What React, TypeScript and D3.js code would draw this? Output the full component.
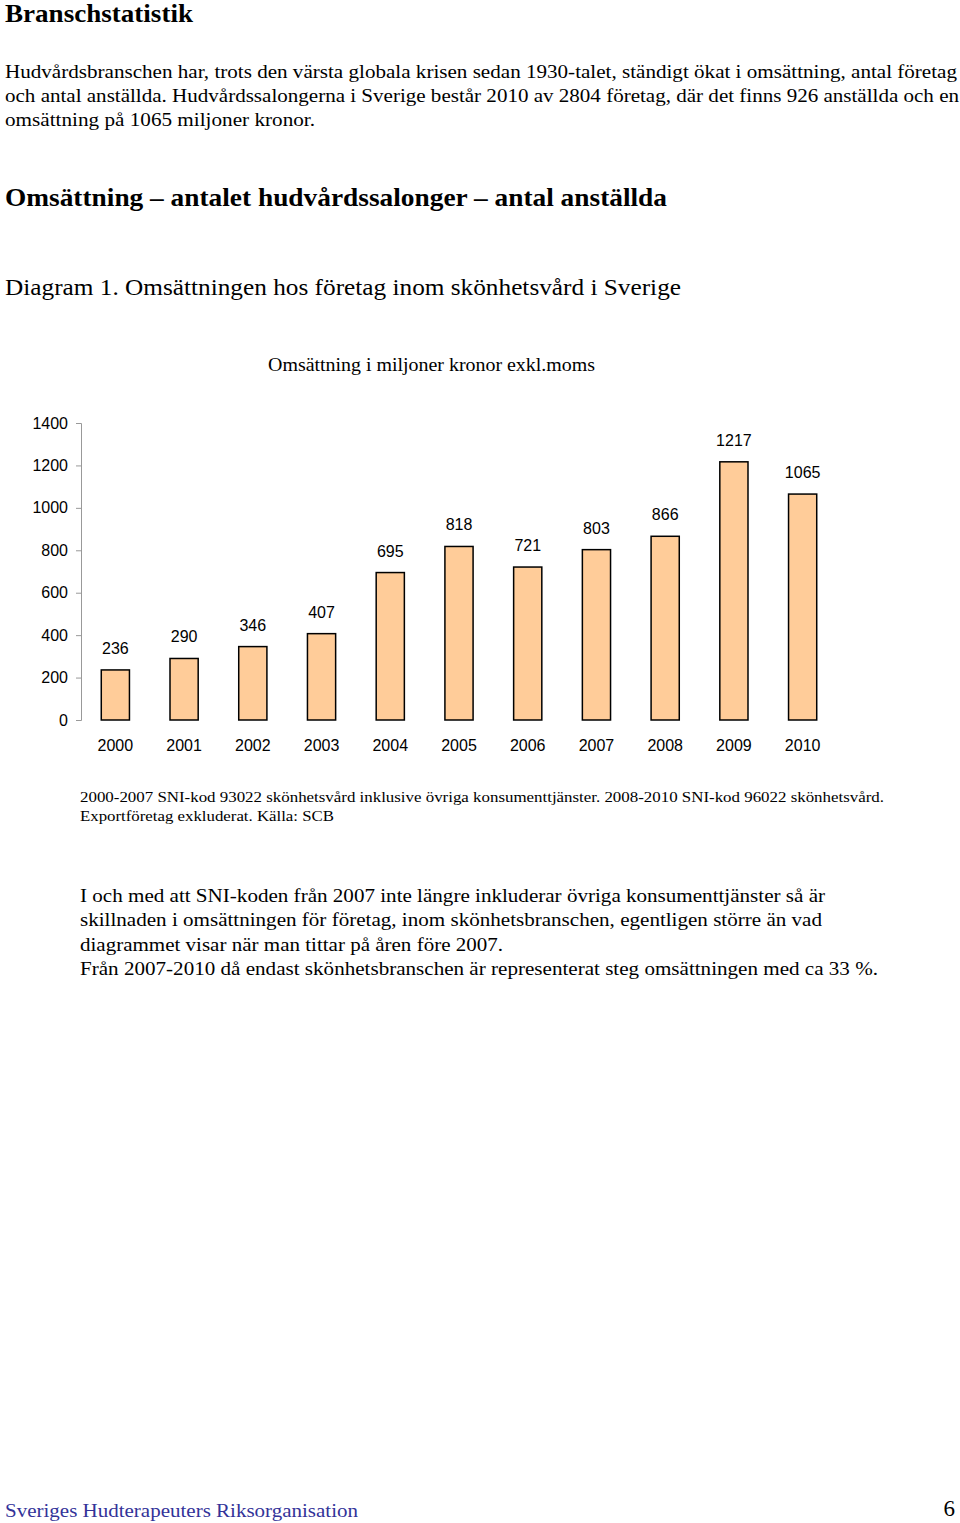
import * as React from 'react';
import { useEffect, useRef } from 'react';
import { select, scaleBand, scaleLinear, axisLeft } from 'd3';

const years = ['2000', '2001', '2002', '2003', '2004', '2005', '2006', '2007', '2008', '2009', '2010'];
const revenue = [236, 290, 346, 407, 695, 818, 721, 803, 866, 1217, 1065];
const yTicks = [0, 200, 400, 600, 800, 1000, 1200, 1400];

const introLines = [
    'Hudvårdsbranschen har, trots den värsta globala krisen sedan 1930-talet, ständigt ökat i omsättning, antal företag',
    'och antal anställda. Hudvårdssalongerna i Sverige består 2010 av 2804 företag, där det finns 926 anställda och en',
    'omsättning på 1065 miljoner kronor.',
];
const noteLines = [
    '2000-2007 SNI-kod 93022 skönhetsvård inklusive övriga konsumenttjänster. 2008-2010 SNI-kod 96022 skönhetsvård.',
    'Exportföretag exkluderat. Källa: SCB',
];
const bodyLines = [
    'I och med att SNI-koden från 2007 inte längre inkluderar övriga konsumenttjänster så är',
    'skillnaden i omsättningen för företag, inom skönhetsbranschen, egentligen större än vad',
    'diagrammet visar när man tittar på åren före 2007.',
    'Från 2007-2010 då endast skönhetsbranschen är representerat steg omsättningen med ca 33 %.',
];

const serif = "'Times New Roman', Times, 'Liberation Serif', serif";
const sans = "Arial, Helvetica, 'Liberation Sans', sans-serif";

export default function App() {
    const ref = useRef<SVGSVGElement>(null);

    useEffect(() => {
        const svg = select(ref.current);
        svg.selectAll('*').remove();

        const addText = (x: number, y: number, str: string, size: number, opts: any = {}) => {
            const t = svg.append('text')
                .attr('x', x)
                .attr('y', y)
                .style('font-family', opts.family || serif)
                .attr('font-size', size)
                .attr('font-weight', opts.bold ? 'bold' : 'normal')
                .attr('fill', opts.fill || '#000')
                .attr('text-anchor', opts.anchor || 'start')
                .text(str);
            if (opts.len) t.attr('textLength', opts.len).attr('lengthAdjust', 'spacingAndGlyphs');
            return t;
        };

        // page text
        addText(5, 22, 'Branschstatistik', 25, { bold: true, len: 188 });
        const introLen = [952, 954, 310];
        introLines.forEach((l, i) => addText(5, 78 + i * 24, l, 19.5, { len: introLen[i] }));
        addText(5, 206, 'Omsättning – antalet hudvårdssalonger – antal anställda', 26, { bold: true, len: 662 });
        addText(5, 295, 'Diagram 1. Omsättningen hos företag inom skönhetsvård i Sverige', 24, { len: 676 });
        addText(268, 371, 'Omsättning i miljoner kronor exkl.moms', 19, { len: 327 });

        // chart
        const x = scaleBand<string>().domain(years).range([81, 837]).paddingInner(0.59).paddingOuter(0.295);
        const y = scaleLinear().domain([0, 1400]).range([720, 423]);

        const yAxis = svg.append('g')
            .attr('transform', 'translate(81,0)')
            .call(axisLeft(y).tickValues(yTicks).tickSize(5).tickPadding(8).tickFormat((d: any) => String(d)));
        yAxis.select('.domain').attr('stroke', '#999');
        yAxis.selectAll('.tick line').attr('stroke', '#999');
        yAxis.selectAll('.tick text')
            .style('font-family', sans)
            .attr('font-size', 16)
            .attr('fill', '#000');

        svg.append('g')
            .selectAll('rect')
            .data(revenue)
            .join('rect')
            .attr('x', (_, i) => x(years[i]))
            .attr('y', (d) => y(d))
            .attr('width', x.bandwidth())
            .attr('height', (d) => y(0) - y(d))
            .attr('fill', '#FFCC99')
            .attr('stroke', '#000')
            .attr('stroke-width', 1.5);

        svg.append('g')
            .selectAll('text')
            .data(revenue)
            .join('text')
            .attr('x', (_, i) => x(years[i]) + x.bandwidth() / 2)
            .attr('y', (d) => y(d) - 16)
            .attr('text-anchor', 'middle')
            .style('font-family', sans)
            .attr('font-size', 16)
            .text((d) => String(d));

        svg.append('g')
            .selectAll('text')
            .data(years)
            .join('text')
            .attr('x', (d) => x(d) + x.bandwidth() / 2)
            .attr('y', 751)
            .attr('text-anchor', 'middle')
            .style('font-family', sans)
            .attr('font-size', 16)
            .text((d) => d);

        const noteLen = [804, 254];
        noteLines.forEach((l, i) => addText(80, 802 + i * 19, l, 15.5, { len: noteLen[i] }));
        const bodyLen = [745, 742, 423, 798];
        bodyLines.forEach((l, i) => addText(80, 902 + i * 24.3, l, 19.5, { len: bodyLen[i] }));

        addText(5, 1517, 'Sveriges Hudterapeuters Riksorganisation', 19.5, { fill: '#333399', len: 353 });
        addText(955, 1516, '6', 23, { anchor: 'end' });
    }, []);

    return (
        <svg
            ref={ref}
            width={960}
            height={1523}
            style={{ position: 'absolute', top: 0, left: 0, background: '#fff' }}
        />
    );
}
